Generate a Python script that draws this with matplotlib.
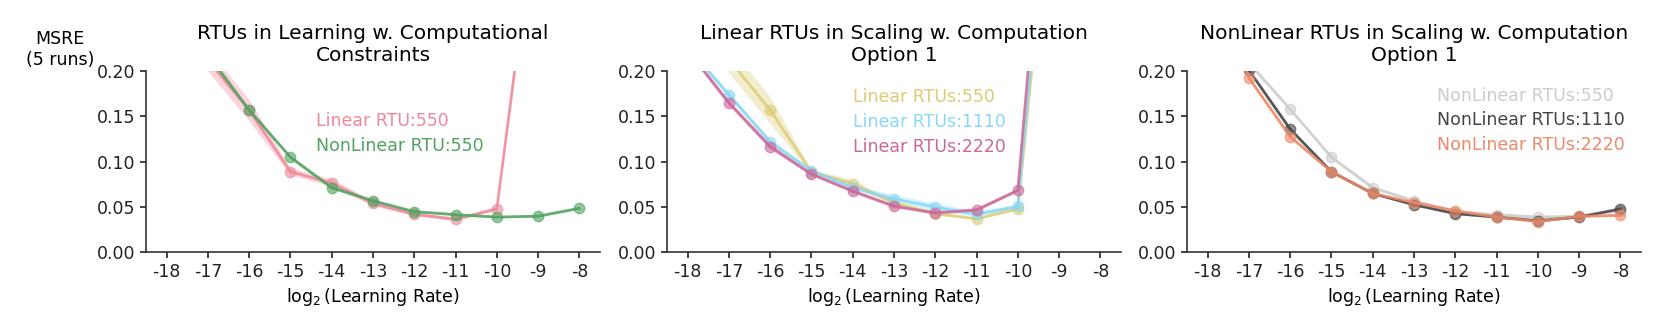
import numpy as np
import matplotlib
matplotlib.use("Agg")
import matplotlib.pyplot as plt

# log2 learning rates
lr = [-18, -17, -16, -15, -14, -13, -12, -11, -10, -9, -8]
nan = np.nan

# panel 1: RTUs in learning w. computational constraints
lin550_p1 = [nan, 0.212, 0.157, 0.089, 0.0766, 0.054, 0.042, 0.0365, 0.048, 0.40, nan]
lin550_p1_err = [nan, 0.012, 0.012, 0.004, 0.004, 0.003, 0.002, 0.002, 0.002, 0.01, nan]
nonlin550_p1 = [nan, 0.218, 0.157, 0.105, 0.0715, 0.057, 0.045, 0.0417, 0.039, 0.040, 0.0487]
nonlin550_p1_err = [nan, 0.003, 0.002, 0.002, 0.002, 0.001, 0.001, 0.001, 0.001, 0.001, 0.001]

# panel 2: linear RTUs, scaling option 1
lin550 = [nan, 0.213, 0.157, 0.089, 0.076, 0.0546, 0.0428, 0.037, 0.048, 0.50, nan]
lin550_err = [nan, 0.015, 0.015, 0.002, 0.004, 0.002, 0.002, 0.001, 0.002, 0.01, nan]
lin1110 = [0.226, 0.174, 0.122, 0.090, 0.0715, 0.059, 0.050, 0.042, 0.0507, 0.55, nan]
lin1110_err = [0.003, 0.003, 0.003, 0.002, 0.002, 0.004, 0.004, 0.003, 0.002, 0.01, nan]
lin2220 = [0.223, 0.165, 0.1167, 0.0864, 0.0676, 0.051, 0.0436, 0.0468, 0.0684, 0.60, nan]
lin2220_err = [0.003, 0.003, 0.003, 0.002, 0.002, 0.002, 0.002, 0.002, 0.002, 0.01, nan]

# panel 3: nonlinear RTUs, scaling option 1
nl550 = [nan, 0.209, 0.158, 0.105, 0.0715, 0.057, 0.045, 0.0417, 0.039, 0.040, 0.046]
nl550_err = [nan, 0.003, 0.002, 0.002, 0.002, 0.001, 0.001, 0.001, 0.001, 0.001, 0.001]
nl1110 = [0.30, 0.201, 0.136, 0.089, 0.065, 0.0526, 0.0428, 0.039, 0.035, 0.039, 0.048]
nl1110_err = [0.003, 0.002, 0.002, 0.001, 0.001, 0.001, 0.001, 0.001, 0.001, 0.001, 0.001]
nl2220 = [0.30, 0.1925, 0.1277, 0.089, 0.065, 0.055, 0.046, 0.039, 0.034, 0.0397, 0.041]
nl2220_err = [0.003, 0.002, 0.002, 0.001, 0.001, 0.001, 0.001, 0.001, 0.001, 0.001, 0.001]

panels = [
    ("RTUs in Learning w. Computational\nConstraints",
     [("Linear RTU:550", lin550_p1, lin550_p1_err, "#EE8899"),
      ("NonLinear RTU:550", nonlin550_p1, nonlin550_p1_err, "#4FA35E")],
     (0.375, 0.775)),
    ("Linear RTUs in Scaling w. Computation\nOption 1",
     [("Linear RTUs:550", lin550, lin550_err, "#DDCC77"),
      ("Linear RTUs:1110", lin1110, lin1110_err, "#88D8F5"),
      ("Linear RTUs:2220", lin2220, lin2220_err, "#CC6699")],
     (0.41, 0.905)),
    ("NonLinear RTUs in Scaling w. Computation\nOption 1",
     [("NonLinear RTUs:550", nl550, nl550_err, "#CCCCCC"),
      ("NonLinear RTUs:1110", nl1110, nl1110_err, "#444444"),
      ("NonLinear RTUs:2220", nl2220, nl2220_err, "#EE8866")],
     (0.55, 0.915)),
]

plt.rcParams["font.family"] = "DejaVu Sans"
fig = plt.figure(figsize=(16.61, 3.12), dpi=100)

lefts = [146, 667, 1187]
x = np.array(lr, dtype=float)
for i, (title, series, leg_pos) in enumerate(panels):
    ax = fig.add_axes([lefts[i] / 1661, 0.191, 454 / 1661, 0.581])
    for label, vals, err, color in series:
        v = np.array(vals, dtype=float)
        e = np.array(err, dtype=float)
        ax.fill_between(x, v - e, v + e, color=color, alpha=0.35, linewidth=0)
        ax.plot(x, v, color=color, linewidth=2.0, alpha=0.85, label=label)
        ax.plot(x, v, "o", color=color, markersize=7.5, alpha=0.6)
    ax.set_xlim(-18.5, -7.5)
    ax.set_ylim(0, 0.2)
    ax.set_xticks(lr)
    ax.set_xticklabels([str(t) for t in lr])
    ax.set_yticks([0.0, 0.05, 0.10, 0.15, 0.20])
    ax.set_yticklabels(["0.00", "0.05", "0.10", "0.15", "0.20"])
    ax.tick_params(labelsize=12.5, colors="#222222", length=4, width=1.2)
    for s in ("top", "right"):
        ax.spines[s].set_visible(False)
    for s in ("left", "bottom"):
        ax.spines[s].set_color("#333333")
        ax.spines[s].set_linewidth(1.2)
    ax.set_xlabel(r"$\log_2$(Learning Rate)", fontsize=12.5, labelpad=4)
    ax.set_title(title, fontsize=14.5, pad=7)
    leg = ax.legend(loc="upper left", bbox_to_anchor=leg_pos, frameon=False,
                    handlelength=0, handletextpad=0, fontsize=12.5,
                    labelspacing=0.4, borderaxespad=0, borderpad=0)
    for h, t in zip(leg.legend_handles, leg.get_texts()):
        h.set_visible(False)
        t.set_color(h.get_color())
    if i == 0:
        ax.set_ylabel("MSRE\n(5 runs)", rotation=0, fontsize=12.5,
                      ha="center", va="center", multialignment="center")
        ax.yaxis.set_label_coords(-0.19, 1.12)

fig.savefig("out.png", dpi=100)
